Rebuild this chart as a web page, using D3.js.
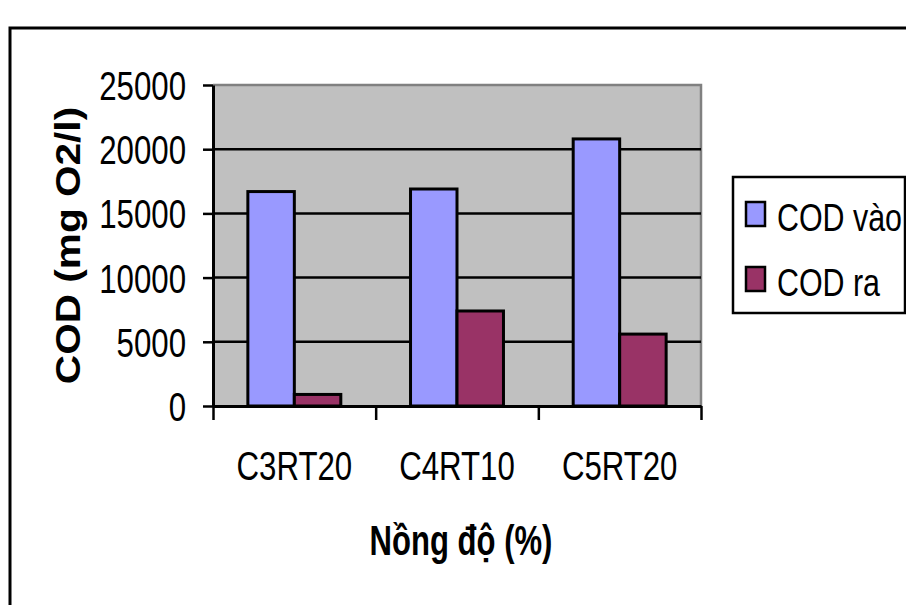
<!DOCTYPE html>
<html>
<head>
<meta charset="utf-8">
<script src="https://cdn.jsdelivr.net/npm/d3@7"></script>
<style>
  body { margin: 0; background: #fff; }
  svg text { font-family: 'Liberation Sans', Arial, sans-serif; fill: #000; }
</style>
</head>
<body>
<div id="chart"></div>
<script>
// -- DATA --
var categories = ['C3RT20', 'C4RT10', 'C5RT20']
var seriesNames = ['COD vào', 'COD ra']
var codVao = [16700, 16900, 20800]
var codRa = [900, 7400, 5600]
var yTicks = [0, 5000, 10000, 15000, 20000, 25000]

// -- GLOBAL --
width = 906
height = 605
margin = {left: 213, right: 205, top: 85, bottom: 199}
colors = ['#9999FF', '#993366']
sx = 0.78   // the source picture is stretched tall, so text is squeezed sideways

var svg = d3.select('#chart').append('svg')
  .attr('width', width)
  .attr('height', height)

var plotW = width - margin.left - margin.right
var plotH = height - margin.top - margin.bottom

var rows = categories.map((c, i) => ({cat: c, values: [codVao[i], codRa[i]]}))

// outer chart frame (runs off the right and bottom edges)
svg.append('rect')
  .attr('x', 10)
  .attr('y', 28)
  .attr('width', 920)
  .attr('height', 620)
  .style('fill', 'none')
  .style('stroke', '#000')
  .style('stroke-width', 3)

// -- SCALES --
var yMap = d3.scaleLinear()
  .domain([0, 25000])
  .range([margin.top + plotH, margin.top])

var x0 = d3.scaleBand()
  .domain(categories)
  .range([margin.left, margin.left + plotW])
  .padding(0)

var x1 = d3.scaleBand()
  .domain(seriesNames)
  .range([0, x0.bandwidth()])
  .paddingInner(0)
  .paddingOuter(0.75)

var xEdge = d3.scaleLinear()
  .domain([0, categories.length])
  .range([margin.left, margin.left + plotW])

// -- PLOT AREA --
svg.append('rect')
  .attr('x', margin.left)
  .attr('y', margin.top)
  .attr('width', plotW)
  .attr('height', plotH)
  .style('fill', '#C0C0C0')

// gray top + right border
svg.append('path')
  .attr('d', 'M' + margin.left + ',' + margin.top + 'H' + (margin.left + plotW) + 'V' + (margin.top + plotH))
  .style('fill', 'none')
  .style('stroke', '#808080')
  .style('stroke-width', 2.5)

// gridlines
svg.append('g').selectAll('line')
  .data(yTicks.filter(d => d > 0 && d < 25000))
  .enter().append('line')
    .attr('x1', margin.left)
    .attr('x2', margin.left + plotW)
    .attr('y1', d => yMap(d))
    .attr('y2', d => yMap(d))
    .style('stroke', '#000')
    .style('stroke-width', 2.5)

// bars
var gBar = svg.append('g').selectAll('g')
  .data(rows)
  .enter().append('g')
    .attr('transform', d => 'translate(' + x0(d.cat) + ',0)')

gBar.selectAll('rect')
  .data(d => d.values.map((v, i) => ({name: seriesNames[i], value: v, i: i})))
  .enter().append('rect')
    .attr('x', d => x1(d.name))
    .attr('y', d => yMap(d.value))
    .attr('width', x1.bandwidth())
    .attr('height', d => yMap(0) - yMap(d.value))
    .style('fill', d => colors[d.i])
    .style('stroke', '#000')
    .style('stroke-width', 3)

// -- AXES --
var yAxis = d3.axisLeft(yMap)
  .tickValues(yTicks)
  .tickFormat(d3.format('d'))
  .tickSize(10)
  .tickSizeOuter(0)
  .tickPadding(17)

var gY = svg.append('g')
  .attr('transform', 'translate(' + margin.left + ',0)')
  .call(yAxis)

gY.select('.domain').style('stroke', '#000').style('stroke-width', 3)
gY.selectAll('.tick line').style('stroke', '#000').style('stroke-width', 2.5)
gY.selectAll('text')
  .style('font-size', '40px')
  .attr('x', -27 / sx)
  .attr('dy', '0.36em')
  .attr('transform', 'scale(' + sx + ',1)')

var xTickAxis = d3.axisBottom(xEdge)
  .tickValues(d3.range(categories.length + 1))
  .tickSize(14)
  .tickSizeOuter(0)
  .tickFormat('')

var gX = svg.append('g')
  .attr('transform', 'translate(0,' + yMap(0) + ')')
  .call(xTickAxis)

gX.select('.domain').style('stroke', '#000').style('stroke-width', 3)
gX.selectAll('.tick line').style('stroke', '#000').style('stroke-width', 2.5)

// category labels, centred in each band; the group is squeezed by sx
var xLabelAxis = d3.axisBottom(x0)
  .tickSize(0)
  .tickPadding(0)

var gXL = svg.append('g')
  .call(xLabelAxis)

gXL.select('.domain').remove()
gXL.selectAll('.tick')
  .attr('transform', d => 'translate(' + (x0(d) + x0.bandwidth() / 2) / sx + ',0)')
gXL.selectAll('.tick text')
  .style('font-size', '40px')
  .attr('y', 74)
  .attr('dy', 0)
gXL.attr('transform', 'translate(0,' + yMap(0) + ') scale(' + sx + ',1)')

// axis titles
svg.append('text')
  .attr('transform', 'translate(' + (margin.left + plotW / 2 + 4) + ',555) scale(0.74,1)')
  .style('font-size', '42px')
  .style('font-weight', 'bold')
  .style('text-anchor', 'middle')
  .text('Nồng độ (%)')

svg.append('text')
  .attr('transform', 'translate(80,' + (margin.top + plotH / 2) + ') rotate(-90) scale(1.16,1)')
  .style('font-size', '35px')
  .style('font-weight', 'bold')
  .style('text-anchor', 'middle')
  .text('COD (mg O2/l)')

// -- LEGEND --
var gLeg = svg.append('g')

gLeg.append('rect')
  .attr('x', 733)
  .attr('y', 177)
  .attr('width', 172)
  .attr('height', 136)
  .style('fill', '#fff')
  .style('stroke', '#000')
  .style('stroke-width', 2.5)

var legItem = gLeg.selectAll('.leg')
  .data(seriesNames)
  .enter().append('g')
    .attr('class', 'leg')
    .attr('transform', (d, i) => 'translate(746,' + (202 + i * 65) + ')')

legItem.append('rect')
  .attr('width', 19)
  .attr('height', 24)
  .style('fill', (d, i) => colors[i])
  .style('stroke', '#000')
  .style('stroke-width', 2.5)

legItem.append('text')
  .attr('transform', 'translate(31,29) scale(0.8,1)')
  .style('font-size', '38px')
  .text(d => d)
</script>
</body>
</html>
